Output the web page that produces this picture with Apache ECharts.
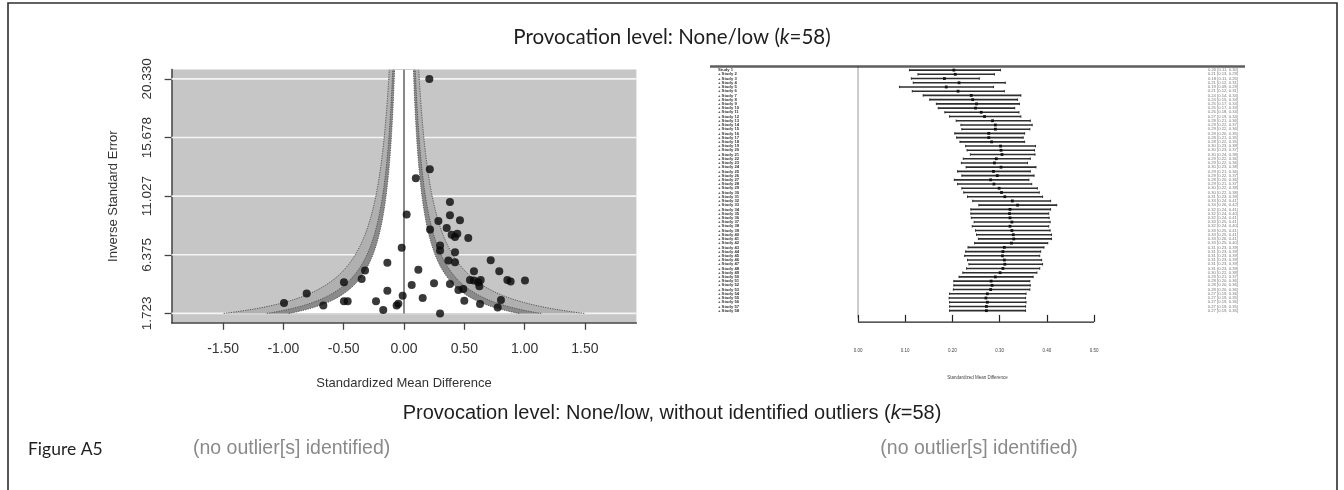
<!DOCTYPE html>
<html>
<head>
<meta charset="utf-8">
<script src="https://cdn.jsdelivr.net/npm/echarts@6/dist/echarts.min.js"></script>
<style>
  html, body { margin: 0; padding: 0; background: #ffffff; }
  #chart { width: 1344px; height: 490px; }
</style>
</head>
<body>
<div id="chart"></div>
<script>
// ---- Funnel plot: standardized mean difference vs. inverse standard error ----
const smd = [
  0.210, 0.214, 0.098, 0.022, -0.019, -0.138, -0.323, -0.351, -0.498, -0.807,
  -0.995, -0.669, -0.498, -0.467, -0.232, -0.138, -0.172, -0.061, -0.047, -0.011,
  0.064, 0.119, 0.155, 0.249, 0.299, 0.216, 0.285, 0.381, 0.381, 0.464,
  0.354, 0.395, 0.423, 0.442, 0.533, 0.299, 0.299, 0.423, 0.368, 0.423,
  0.719, 0.580, 0.790, 0.547, 0.580, 0.616, 0.636, 0.625, 0.857, 0.884,
  1.003, 0.381, 0.451, 0.492, 0.500, 0.630, 0.804, 0.777
];
const seInv = [
  20.330, 13.16, 12.44, 9.57, 6.93, 5.74, 5.12, 4.46, 4.19, 3.31,
  2.55, 2.36, 2.68, 2.68, 2.68, 3.53, 1.99, 2.35, 2.49, 3.13,
  3.98, 5.18, 2.94, 4.12, 1.723, 8.39, 9.06, 10.57, 9.51, 9.11,
  8.50, 7.97, 7.78, 8.05, 7.70, 7.12, 6.72, 6.58, 5.92, 5.78,
  5.95, 5.07, 5.07, 4.38, 4.33, 4.19, 4.38, 3.87, 4.38, 4.25,
  4.33, 4.06, 3.58, 3.66, 2.73, 2.47, 2.79, 2.20
];
const funnelXTicks = [-1.5, -1.0, -0.5, 0, 0.5, 1.0, 1.5];
const funnelYTicks = [1.723, 6.375, 11.027, 15.678, 20.330];
// critical z values of the 99%, 95% and 90% significance contours
const contourZ = [2.576, 1.960, 1.645];
const contourFill = ['#b0b0b0', '#8a8a8a', '#ffffff'];

// ---- Cumulative forest plot (studies added one at a time) ----
const cumEst = [
  0.203, 0.206, 0.183, 0.214, 0.187, 0.212, 0.240, 0.243, 0.251, 0.249,
  0.261, 0.268, 0.285, 0.291, 0.291, 0.277, 0.277, 0.283, 0.302, 0.303,
  0.305, 0.293, 0.289, 0.303, 0.287, 0.295, 0.281, 0.288, 0.299, 0.304,
  0.311, 0.327, 0.338, 0.322, 0.321, 0.322, 0.326, 0.322, 0.326, 0.329,
  0.330, 0.325, 0.310, 0.307, 0.306, 0.310, 0.311, 0.307, 0.301, 0.291,
  0.282, 0.284, 0.281, 0.274, 0.271, 0.274, 0.272, 0.272
];
const cumLo = [
  0.109, 0.127, 0.113, 0.117, 0.088, 0.115, 0.138, 0.152, 0.166, 0.170,
  0.184, 0.194, 0.208, 0.218, 0.220, 0.205, 0.209, 0.216, 0.228, 0.231,
  0.238, 0.223, 0.219, 0.229, 0.211, 0.220, 0.204, 0.211, 0.220, 0.224,
  0.232, 0.243, 0.256, 0.239, 0.239, 0.240, 0.246, 0.242, 0.249, 0.251,
  0.255, 0.247, 0.233, 0.228, 0.226, 0.232, 0.235, 0.230, 0.222, 0.214,
  0.203, 0.203, 0.202, 0.194, 0.193, 0.194, 0.194, 0.194
];
const cumHi = [
  0.302, 0.289, 0.257, 0.312, 0.287, 0.310, 0.345, 0.338, 0.342, 0.332,
  0.341, 0.345, 0.365, 0.369, 0.364, 0.353, 0.350, 0.353, 0.376, 0.374,
  0.375, 0.365, 0.359, 0.377, 0.365, 0.373, 0.362, 0.368, 0.380, 0.384,
  0.391, 0.408, 0.421, 0.408, 0.404, 0.405, 0.407, 0.404, 0.407, 0.410,
  0.410, 0.402, 0.394, 0.387, 0.385, 0.389, 0.391, 0.385, 0.379, 0.371,
  0.364, 0.365, 0.364, 0.356, 0.355, 0.356, 0.355, 0.355
];
const studyLabels = cumEst.map((_, i) => (i === 0 ? 'Study 1' : '+ Study ' + (i + 1)));
const forestTicks = [0, 0.1, 0.2, 0.3, 0.4, 0.5];

const nRows = cumEst.length;
const SANS = 'Liberation Sans, Arial, sans-serif';
const HUMANIST = 'Lato, Open Sans, sans-serif';

const chart = echarts.init(document.getElementById('chart'), null, { renderer: 'canvas' });

// funnel background: white reference lines, shaded contour regions, dotted contour edges, line at 0
function renderFunnelBackdrop(params, api) {
  const yMin = funnelYTicks[0];
  const yMax = 21.074;
  const xLo = -1.927, xHi = 1.927;
  const children = [];

  funnelYTicks.forEach(t => {
    const a = api.coord([xLo, t]);
    const b = api.coord([xHi, t]);
    children.push({ type: 'line', shape: { x1: a[0], y1: a[1], x2: b[0], y2: b[1] },
      style: { stroke: '#f4f4f4', lineWidth: 1.6 } });
  });

  const steps = 160;
  const ys = [];
  for (let s = 0; s <= steps; s++) ys.push(yMin + (yMax - yMin) * s / steps);

  contourZ.forEach((z, k) => {
    const right = ys.map(y => api.coord([z / y, y]));
    const left = ys.slice().reverse().map(y => api.coord([-z / y, y]));
    children.push({ type: 'polygon', shape: { points: right.concat(left) },
      style: { fill: contourFill[k], stroke: null } });
  });
  contourZ.forEach(z => {
    [1, -1].forEach(sign => {
      const pts = ys.map(y => api.coord([sign * z / y, y]));
      children.push({ type: 'polyline', shape: { points: pts },
        style: { stroke: '#555555', lineWidth: 1, lineDash: [1.2, 1.2], fill: null } });
    });
  });

  const r0 = api.coord([0, yMin]);
  const r1 = api.coord([0, yMax]);
  children.push({ type: 'line', shape: { x1: r0[0], y1: r0[1], x2: r1[0], y2: r1[1] },
    style: { stroke: '#4a4a4a', lineWidth: 1.3 } });

  return { type: 'group', children: children };
}

// one cumulative estimate: CI segment with end caps, point marker, and row texts
function renderForestRow(params, api) {
  const cs = params.coordSys;
  const lo = api.value(0), est = api.value(1), hi = api.value(2), yv = api.value(3);
  const idx = params.dataIndex;
  const a = api.coord([lo, yv]);
  const b = api.coord([hi, yv]);
  const m = api.coord([est, yv]);
  const ink = '#2e2e2e';
  return {
    type: 'group',
    children: [
      { type: 'line', shape: { x1: a[0], y1: a[1], x2: b[0], y2: b[1] }, style: { stroke: ink, lineWidth: 1.6 } },
      { type: 'line', shape: { x1: a[0], y1: a[1] - 1.2, x2: a[0], y2: a[1] + 1.2 }, style: { stroke: ink, lineWidth: 1 } },
      { type: 'line', shape: { x1: b[0], y1: b[1] - 1.2, x2: b[0], y2: b[1] + 1.2 }, style: { stroke: ink, lineWidth: 1 } },
      { type: 'rect', shape: { x: m[0] - 1.4, y: m[1] - 1.4, width: 2.8, height: 2.8 }, style: { fill: '#111' } },
      { type: 'text', x: cs.x + 8, y: m[1],
        style: { text: studyLabels[idx], fontSize: 4.2, fontWeight: 'bold', fontFamily: SANS,
          fill: '#333', align: 'left', verticalAlign: 'middle' } },
      { type: 'text', x: cs.x + cs.width - 7, y: m[1],
        style: { text: est.toFixed(2) + ' [' + lo.toFixed(2) + ', ' + hi.toFixed(2) + ']',
          fontSize: 4.2, fontFamily: SANS, fill: '#777', align: 'right', verticalAlign: 'middle' } }
    ]
  };
}

// forest frame: heavy top rule, dotted line at zero, axis line over the tick range
function renderForestFrame(params, api) {
  const cs = params.coordSys;
  const topY = api.coord([0, 58.85])[1];
  const z0 = api.coord([0, 58.85]);
  const z1 = api.coord([0, -0.9]);
  const ax0 = api.coord([forestTicks[0], -1.7]);
  const ax1 = api.coord([forestTicks[forestTicks.length - 1], -1.7]);
  return {
    type: 'group',
    children: [
      { type: 'line', shape: { x1: cs.x, y1: topY, x2: cs.x + cs.width, y2: topY },
        style: { stroke: '#5e5e5e', lineWidth: 2.6 } },
      { type: 'line', shape: { x1: z0[0], y1: z0[1], x2: z1[0], y2: z1[1] },
        style: { stroke: '#333', lineWidth: 1, lineDash: [1, 1] } },
      { type: 'line', shape: { x1: ax0[0], y1: ax0[1], x2: ax1[0], y2: ax1[1] },
        style: { stroke: '#222', lineWidth: 1.2 } }
    ]
  };
}

const option = {
  backgroundColor: '#ffffff',
  animation: false,
  grid: [
    { left: 171.6, top: 69.5, width: 464.8, height: 253.3, show: true,
      backgroundColor: '#c6c6c6', borderWidth: 0 },
    { left: 710, top: 61.66, width: 535, height: 260.4, show: false }
  ],
  xAxis: [
    {
      gridIndex: 0, type: 'value', min: -1.927, max: 1.927,
      name: 'Standardized Mean Difference', nameLocation: 'middle', nameGap: 54,
      nameTextStyle: { fontFamily: SANS, fontSize: 13, color: '#333' },
      axisLine: { show: true, onZero: false, lineStyle: { color: '#444', width: 1.5 } },
      axisTick: { show: true, length: 7, customValues: funnelXTicks, lineStyle: { color: '#444', width: 1.3 } },
      axisLabel: { customValues: funnelXTicks, margin: 19, fontFamily: SANS, fontSize: 14, color: '#333',
        formatter: v => v.toFixed(2) },
      splitLine: { show: false }
    },
    {
      gridIndex: 1, type: 'value', min: -0.3136, max: 0.8199,
      name: 'Standardized Mean Difference', nameLocation: 'middle', nameGap: 53,
      nameTextStyle: { fontFamily: SANS, fontSize: 4.5, color: '#444' },
      axisLine: { show: false },
      axisTick: { show: true, length: 7, customValues: forestTicks, lineStyle: { color: '#222', width: 1.2 } },
      axisLabel: { customValues: forestTicks, margin: 26, fontFamily: SANS, fontSize: 4.5, color: '#444',
        formatter: v => v.toFixed(2) },
      splitLine: { show: false }
    }
  ],
  yAxis: [
    {
      gridIndex: 0, type: 'value', min: 0.979, max: 21.074,
      name: 'Inverse Standard Error', nameLocation: 'middle', nameGap: 52, nameRotate: 90,
      nameTextStyle: { fontFamily: SANS, fontSize: 13, color: '#333' },
      axisLine: { show: true, onZero: false, lineStyle: { color: '#444', width: 1.5 } },
      axisTick: { show: true, length: 7, customValues: funnelYTicks, lineStyle: { color: '#444', width: 1.3 } },
      axisLabel: { customValues: funnelYTicks, rotate: 90, margin: 17, align: 'center', verticalAlign: 'bottom',
        fontFamily: SANS, fontSize: 13.5, color: '#333', formatter: v => v.toFixed(3) },
      splitLine: { show: false }
    },
    {
      gridIndex: 1, type: 'value', min: -1.7, max: 60, show: false
    }
  ],
  series: [
    {
      type: 'custom', xAxisIndex: 0, yAxisIndex: 0, clip: true, silent: true, z: 1,
      data: [[0, funnelYTicks[0]]], renderItem: renderFunnelBackdrop
    },
    {
      type: 'scatter', xAxisIndex: 0, yAxisIndex: 0, z: 5, symbol: 'circle', symbolSize: 8,
      itemStyle: { color: '#080808' },
      data: smd.map((x, i) => [x, seInv[i]])
    },
    {
      type: 'custom', xAxisIndex: 1, yAxisIndex: 1, silent: true, z: 1,
      data: [[0, 0]], renderItem: renderForestFrame
    },
    {
      type: 'custom', xAxisIndex: 1, yAxisIndex: 1, silent: true, z: 3,
      data: cumEst.map((e, i) => [cumLo[i], e, cumHi[i], nRows - i]),
      renderItem: renderForestRow
    }
  ],
  graphic: [
    { type: 'polyline', silent: true,
      shape: { points: [[8, 490], [8, 3], [1337, 3], [1337, 490]] },
      style: { stroke: '#2e2e2e', lineWidth: 1.6, fill: null } },
    { type: 'text', x: 672, y: 37, silent: true,
      style: { text: '{a|Provocation level: None/low (}{i|k}{a|=58)}', align: 'center', verticalAlign: 'middle',
        rich: {
          a: { fontFamily: HUMANIST, fontSize: 20.5, fill: '#1e1e1e' },
          i: { fontFamily: HUMANIST, fontSize: 20.5, fontStyle: 'italic', fill: '#1e1e1e' }
        } } },
    { type: 'text', x: 672, y: 413, silent: true,
      style: { text: '{a|Provocation level: None/low, without identified outliers (}{i|k}{a|=58)}',
        align: 'center', verticalAlign: 'middle',
        rich: {
          a: { fontFamily: SANS, fontSize: 20, fill: '#1e1e1e' },
          i: { fontFamily: SANS, fontSize: 20, fontStyle: 'italic', fill: '#1e1e1e' }
        } } },
    { type: 'text', x: 28, y: 449, silent: true,
      style: { text: 'Figure A5', fontFamily: HUMANIST, fontSize: 17.5, fill: '#1e1e1e',
        align: 'left', verticalAlign: 'middle' } },
    { type: 'text', x: 193, y: 449, silent: true,
      style: { text: '(no outlier[s] identified)', fontFamily: SANS, fontSize: 19.5, fill: '#8a8a8a',
        align: 'left', verticalAlign: 'middle' } },
    { type: 'text', x: 979, y: 449, silent: true,
      style: { text: '(no outlier[s] identified)', fontFamily: SANS, fontSize: 19.5, fill: '#8a8a8a',
        align: 'center', verticalAlign: 'middle' } }
  ]
};

chart.setOption(option);
</script>
</body>
</html>
